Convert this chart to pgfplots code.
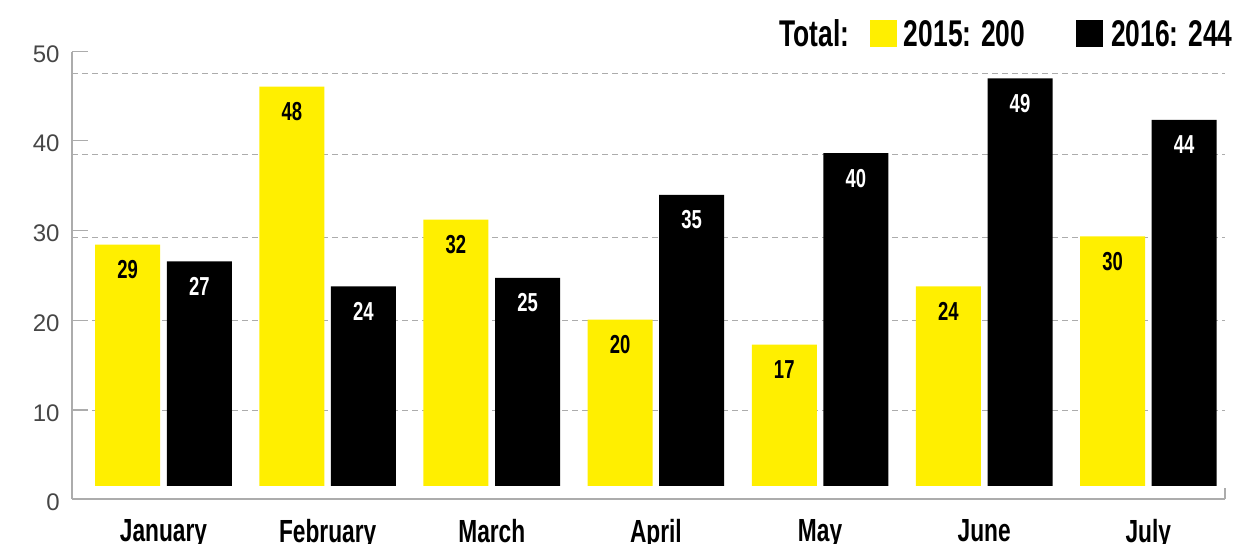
\documentclass[border=0pt]{standalone}
\usepackage{pgfplots}
\pgfplotsset{compat=1.18}
\usepackage{fontspec}
\setmainfont{Liberation Sans}
\newfontfamily\cond[FakeStretch=0.71]{Liberation Sans}
\definecolor{ybarc}{RGB}{255,239,0}
\definecolor{axgray}{RGB}{172,172,172}
\definecolor{lblgray}{RGB}{70,70,70}
\begin{document}
\begin{tikzpicture}
\useasboundingbox (-36pt,-22.5pt) rectangle (583.5pt,249.5pt);
\begin{axis}[
  at={(0pt,0pt)}, anchor=south west,
  scale only axis, width=576.5pt, height=223.65pt,
  xmin=-0.5575, xmax=6.467,
  ymin=-1.5625, ymax=52.2,
  /pgf/number format/assume math mode=true,
  axis x line*=bottom, axis y line*=left,
  axis line style={draw=axgray, line width=1pt},
  xtick={0,1,2,3,4,5,6},
  xticklabels={January,February,March,April,May,June,July},
  x tick label style={font=\cond\bfseries\fontsize{16}{16}\selectfont, inner sep=0pt, anchor=north, yshift=-2pt},
  major x tick style={draw=none},
  ytick={-1.5625,9.13,19.9,30.69,41.5,52.2},
  yticklabels={0,10,20,30,40,50},
  y tick label style={font=\fontsize{12}{12}\selectfont, text=lblgray, inner sep=0pt, anchor=east, xshift=-6pt, yshift=-1.5pt},
  major y tick style={draw=axgray, line width=0.6pt},
  tick align=inside, major tick length=8pt,
  extra y ticks={9.13,19.9,29.9,39.9,49.6},
  extra y tick labels={},
  extra y tick style={grid=major, major tick length=0pt, grid style={dash pattern=on 3pt off 2pt, draw=axgray, line width=0.5pt}},
  ybar, bar width=32.5pt,
  clip=false,
]
\addplot[fill=ybarc, draw=none, bar shift=-17.9pt,
  nodes near coords,
  every node near coord/.append style={anchor=center, yshift=-12.5pt, text=black, font=\cond\bfseries\fontsize{13}{13}\selectfont}]
  coordinates {(0,29)(1,48)(2,32)(3,20)(4,17)(5,24)(6,30)};
\addplot[fill=black, draw=none, bar shift=17.9pt,
  nodes near coords,
  every node near coord/.append style={anchor=center, yshift=-12.5pt, text=white, font=\cond\bfseries\fontsize{13}{13}\selectfont}]
  coordinates {(0,27)(1,24)(2,25)(3,35)(4,40)(5,49)(6,44)};
\end{axis}
\draw[axgray, line width=0.6pt] (576.5pt,0pt) -- (576.5pt,5.5pt);
\node[anchor=base east, inner sep=0pt] at (580.5pt,226pt)
  {\cond\bfseries\fontsize{18.6}{18.6}\selectfont Total:\hspace{10.5pt}\textcolor{ybarc}{\rule{13.4pt}{13.4pt}}\hspace{3.5pt}2015: 200\hspace{25.5pt}\textcolor{black}{\rule{13.4pt}{13.4pt}}\hspace{4pt}2016: 244};
\end{tikzpicture}
\end{document}
